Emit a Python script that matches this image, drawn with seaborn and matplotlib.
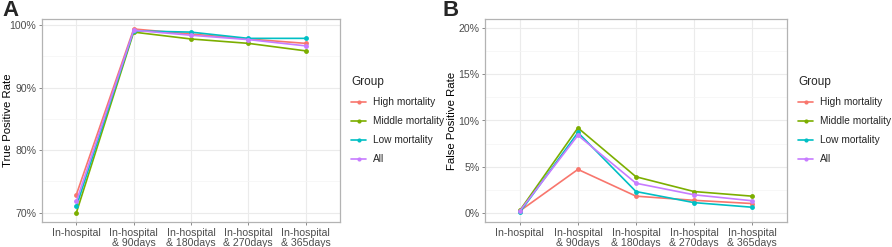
import pandas as pd
import numpy as np
import matplotlib
matplotlib.use("Agg")
import matplotlib.pyplot as plt
import seaborn as sns
from matplotlib.ticker import MultipleLocator, FuncFormatter

# stages on the x axis
stages = ["In-hospital", "In-hospital\n& 90days", "In-hospital\n& 180days",
          "In-hospital\n& 270days", "In-hospital\n& 365days"]
groups = ["High mortality", "Middle mortality", "Low mortality", "All"]
colors = ["#F8766D", "#7CAE00", "#00BFC4", "#C77CFF"]

# True positive rate (%)
tpr_high = [72.9, 99.4, 98.6, 97.8, 97.1]
tpr_middle = [70.0, 98.9, 97.8, 97.1, 95.9]
tpr_low = [71.0, 99.1, 98.9, 97.9, 97.9]
tpr_all = [71.8, 99.2, 98.4, 97.7, 96.7]

# False positive rate (%)
fpr_high = [0.2, 4.7, 1.8, 1.35, 1.0]
fpr_middle = [0.25, 9.2, 3.9, 2.3, 1.8]
fpr_low = [0.05, 8.7, 2.3, 1.1, 0.6]
fpr_all = [0.2, 8.4, 3.2, 1.95, 1.3]


def to_long(series):
    rows = []
    for g, vals in zip(groups, series):
        for s, v in zip(stages, vals):
            rows.append({"Stage": s, "Group": g, "Rate": v})
    return pd.DataFrame(rows)


tpr = to_long([tpr_high, tpr_middle, tpr_low, tpr_all])
fpr = to_long([fpr_high, fpr_middle, fpr_low, fpr_all])

sns.set_theme(style="white")
plt.rcParams['font.family'] = ['Liberation Sans', 'DejaVu Sans']

fig = plt.figure(figsize=(8.92, 2.47), dpi=100)
axA = fig.add_axes([42 / 892, 25 / 247, 298 / 892, 203 / 247])
axB = fig.add_axes([485 / 892, 25 / 247, 302 / 892, 203 / 247])


def style_axis(ax, data, ylabel, ylim, major, minor, label_x):
    sns.lineplot(data=data, x="Stage", y="Rate", hue="Group", hue_order=groups,
                 palette=colors, marker="o", markersize=3.5, markeredgewidth=0,
                 linewidth=1.2, sort=False, ax=ax, legend=False, zorder=3)
    ax.set_xlim(-0.6, 4.6)
    ax.set_ylim(*ylim)
    ax.yaxis.set_major_locator(MultipleLocator(major))
    ax.yaxis.set_minor_locator(MultipleLocator(minor))
    ax.yaxis.set_major_formatter(FuncFormatter(lambda v, p: f"{v:.0f}%"))
    ax.grid(True, which="major", color="#EBEBEB", linewidth=0.8)
    ax.grid(True, which="minor", axis="y", color="#F4F4F4", linewidth=0.5)
    ax.set_axisbelow(True)
    for sp in ax.spines.values():
        sp.set_color("#B3B3B3")
        sp.set_linewidth(0.9)
    ax.tick_params(axis="both", which="major", length=2.5, width=0.6, color="#777777",
                   labelsize=7.6, labelcolor="#4D4D4D", pad=1.5, left=True, bottom=True)
    ax.tick_params(axis="y", which="minor", length=0)
    ax.set_xlabel("")
    ax.set_ylabel(ylabel, fontsize=8.2, color="black")
    ax.yaxis.set_label_coords(label_x, 0.5)
    for lab in ax.get_xticklabels():
        lab.set_linespacing(1.0)


style_axis(axA, tpr, "True Positive Rate", (68.5, 101.0), 10, 5, -0.097)
style_axis(axB, fpr, "False Positive Rate", (-1.0, 21.0), 5, 2.5, -0.093)

# legends
handles = [plt.Line2D([], [], color=c, marker="o", markersize=3, markeredgewidth=0,
                      linewidth=1.2) for c in colors]
for x0 in [351 / 892, 798 / 892]:
    leg = fig.legend(handles, groups, title="Group", loc="upper left",
                     bbox_to_anchor=(x0, 171 / 247), frameon=False, fontsize=7.3,
                     title_fontsize=8.5, handlelength=1.5, handletextpad=0.7,
                     labelspacing=0.9, borderaxespad=0, borderpad=0)
    leg._legend_box.align = "left"

fig.text(2 / 892, 1.0, "A", fontsize=16, fontweight="bold", va="top", ha="left")
fig.text(443 / 892, 1.0, "B", fontsize=16, fontweight="bold", va="top", ha="left")

fig.savefig("out.png", dpi=100)
